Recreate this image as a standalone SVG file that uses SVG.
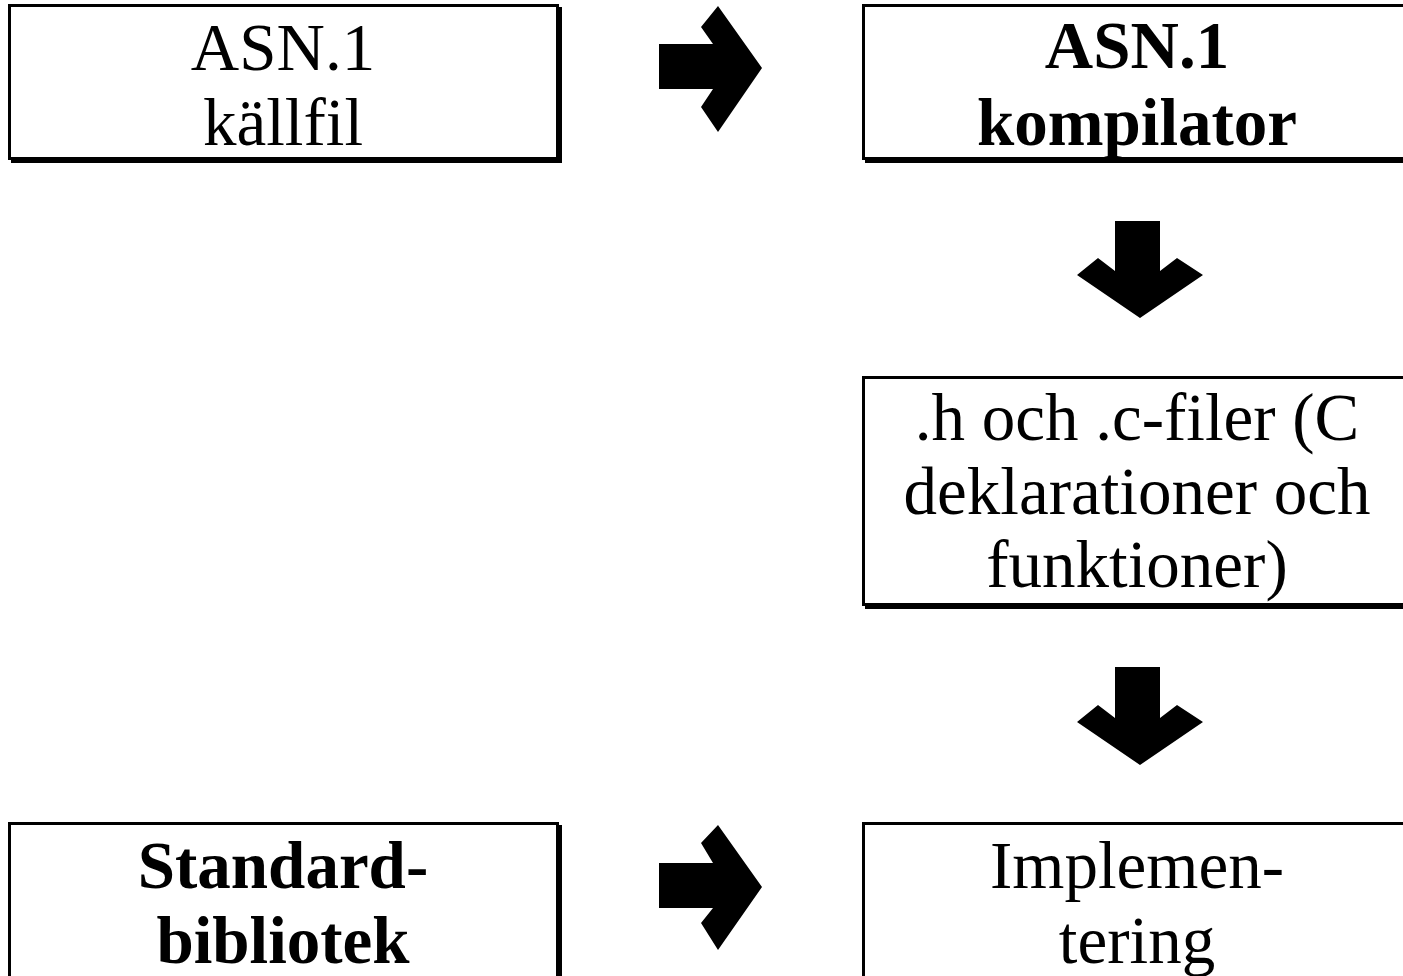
<svg xmlns="http://www.w3.org/2000/svg" width="1403" height="976" viewBox="0 0 1403 976">
<defs>
<style>
.shadow{fill:#000;stroke:none}
.box{fill:#fff;stroke:#000;stroke-width:3}
.t{font-family:"Liberation Serif","Times New Roman",serif;font-size:67px;fill:#000;text-anchor:middle}
.b{font-weight:bold}
.arrow{fill:#000;stroke:none}
</style>
</defs>
<rect width="1403" height="976" fill="#fff"/>
<g id="node-asn1-source">
<rect class="shadow" x="11" y="7" width="551" height="156"/>
<rect class="box" x="9.5" y="5.5" width="548" height="153"/>
<text class="t" x="283" y="70">ASN.1</text>
<text class="t" x="283" y="145">källfil</text>
</g>
<g id="node-compiler">
<rect class="shadow" x="865" y="7" width="551" height="156"/>
<rect class="box" x="863.5" y="5.5" width="548" height="153"/>
<text class="t b" x="1137" y="68">ASN.1</text>
<text class="t b" x="1137" y="145">kompilator</text>
</g>
<g id="node-files">
<rect class="shadow" x="865" y="379" width="551" height="230"/>
<rect class="box" x="863.5" y="377.5" width="548" height="227"/>
<text class="t" x="1137" y="440">.h och .c-filer (C</text>
<text class="t" x="1137" y="514">deklarationer och</text>
<text class="t" x="1137" y="587">funktioner)</text>
</g>
<g id="node-stdlib">
<rect class="shadow" x="11" y="825" width="551" height="230"/>
<rect class="box" x="9.5" y="823.5" width="548" height="227"/>
<text class="t b" x="283" y="888">Standard-</text>
<text class="t b" x="283" y="963">bibliotek</text>
</g>
<g id="node-impl">
<rect class="shadow" x="865" y="825" width="551" height="230"/>
<rect class="box" x="863.5" y="823.5" width="548" height="227"/>
<text class="t" x="1137" y="888">Implemen-</text>
<text class="t" x="1137" y="963">tering</text>
</g>
<g id="connectors">
<polygon class="arrow" points="659,44 713,44 701,27 718,6 762,68 718,132 701,107 713,89 659,89"/>
<polygon class="arrow" points="1115,221 1160,221 1160,271 1177,258 1203,275 1140,318 1077,275 1098,258 1115,271"/>
<polygon class="arrow" points="1115,667 1160,667 1160,718 1177,705 1203,722 1140,765 1077,722 1098,705 1115,718"/>
<polygon class="arrow" points="659,863 713,863 701,843 718,825 762,887 718,950 701,923 713,908 659,908"/>
</g>
</svg>
